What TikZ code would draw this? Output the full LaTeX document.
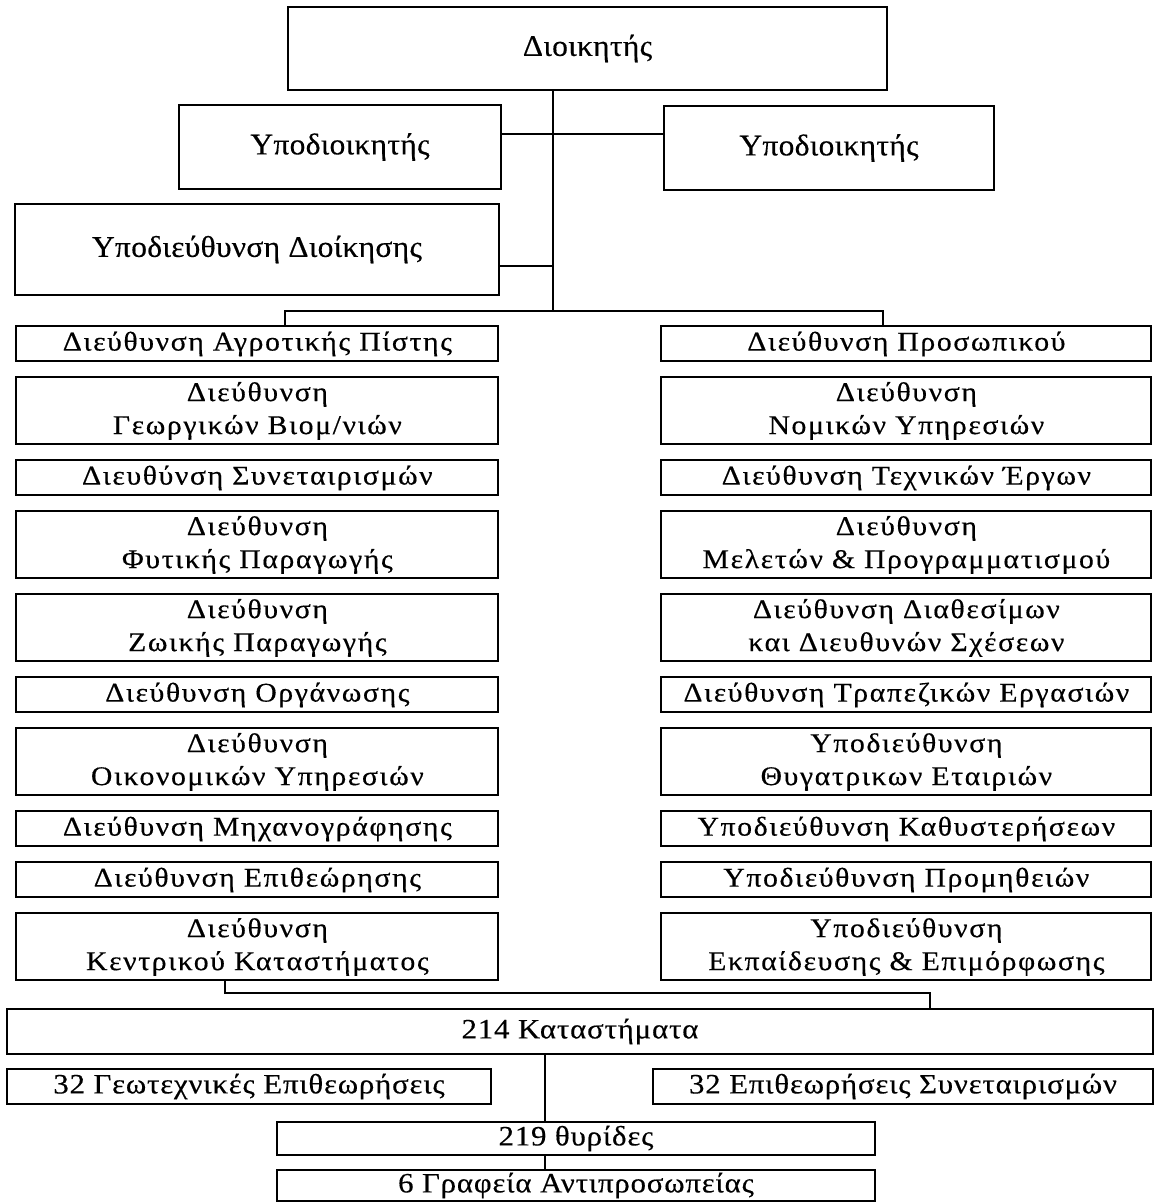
\documentclass[tikz,border=0pt]{standalone}
\usepackage{fontspec}
\setmainfont{Liberation Serif}
\newfontfamily\colfont[FakeStretch=1.1,LetterSpace=6,FakeBold=0.4]{Liberation Serif}
\newfontfamily\topfont[FakeStretch=1.05,LetterSpace=1,FakeBold=0.4]{Liberation Serif}
\newfontfamily\botfont[FakeStretch=1.1,LetterSpace=3,FakeBold=0.4]{Liberation Serif}
\usetikzlibrary{matrix}

\tikzset{
  unit/.style={draw,line width=1pt,inner sep=0pt,outer sep=0pt,align=center},
  topunit/.style={unit,font=\topfont\fontsize{15}{18}\selectfont},
  botunit/.style={unit,font=\botfont\fontsize{14}{17}\selectfont},
  conn/.style={line width=1pt},
}

\begin{document}
\begin{tikzpicture}[x=0.5pt,y=-0.5pt]
\useasboundingbox (0,0) rectangle (1157,1204);
% administration
\node[topunit,minimum width=299.5pt,minimum height=41.5pt] (dioik) at (587.5,48.5) {Διοικητής};
\node[topunit,minimum width=161pt,minimum height=42pt] (ypo1) at (340,147) {Υποδιοικητής};
\node[topunit,minimum width=165pt,minimum height=42pt] (ypo2) at (829,148) {Υποδιοικητής};
\node[topunit,minimum width=242pt,minimum height=45.5pt] (ypdioik) at (257,249.5) {Υποδιεύθυνση Διοίκησης};
% directorates
\matrix (m) [matrix of nodes,anchor=north west,inner sep=0pt,row sep=7pt,column sep=80.5pt,
nodes={unit,minimum height=17.5pt,font=\colfont\fontsize{13.5}{16.5}\selectfont},
column 1/.style={nodes={text width=241pt}},
column 2/.style={nodes={text width=245pt}},
row 2/.style={nodes={minimum height=33.5pt}},
row 4/.style={nodes={minimum height=33.5pt}},
row 5/.style={nodes={minimum height=33.5pt}},
row 7/.style={nodes={minimum height=33.5pt}},
row 10/.style={nodes={minimum height=33.5pt}}
] at (15,325) {
Διεύθυνση Αγροτικής Πίστης            & Διεύθυνση Προσωπικού                                 \\
{Διεύθυνση\\Γεωργικών Βιομ/νιών}      & {Διεύθυνση\\Νομικών Υπηρεσιών}                       \\
Διευθύνση Συνεταιρισμών               & Διεύθυνση Τεχνικών Έργων                             \\
{Διεύθυνση\\Φυτικής Παραγωγής}        & {Διεύθυνση\\Μελετών \& Προγραμματισμού}              \\
{Διεύθυνση\\Ζωικής Παραγωγής}         & {Διεύθυνση Διαθεσίμων\\και Διευθυνών Σχέσεων}        \\
Διεύθυνση Οργάνωσης                   & Διεύθυνση Τραπεζικών Εργασιών                        \\
{Διεύθυνση\\Οικονομικών Υπηρεσιών}    & {Υποδιεύθυνση\\Θυγατρικων Εταιριών}                  \\
Διεύθυνση Μηχανογράφησης              & Υποδιεύθυνση Καθυστερήσεων                           \\
Διεύθυνση Επιθεώρησης                 & Υποδιεύθυνση Προμηθειών                              \\
{Διεύθυνση\\Κεντρικού Καταστήματος}   & {Υποδιεύθυνση\\Εκπαίδευσης \& Επιμόρφωσης}           \\
};
% branches
\node[botunit,minimum width=573pt,minimum height=22.5pt] (kat) at (580,1031.5) {214 Καταστήματα};
\node[botunit,minimum width=242pt,minimum height=17.5pt] (geo) at (249,1086.5) {32 Γεωτεχνικές Επιθεωρήσεις};
\node[botunit,minimum width=250pt,minimum height=17.5pt] (epi) at (903,1086.5) {32 Επιθεωρήσεις Συνεταιρισμών};
\node[botunit,minimum width=299pt,minimum height=16.5pt] (thy) at (576,1138.5) {219 θυρίδες};
\node[botunit,minimum width=299pt,minimum height=15.5pt] (graf) at (576,1185.5) {6 Γραφεία Αντιπροσωπείας};
% connectors
\coordinate (trunk) at (553,311);
\coordinate (jl) at (285,311);
\coordinate (jr) at (883,311);
\coordinate (kl) at (225,993);
\coordinate (kr) at (930,993);
\coordinate (stem) at (545,1100);
\draw[conn] (dioik.south -| trunk) -- (trunk);
\draw[conn] ([yshift=6.5pt]ypo1.east) -- ([yshift=6.5pt]ypo1.east -| ypo2.west);
\draw[conn] ([yshift=-8.25pt]ypdioik.east) -- ([yshift=-8.25pt]ypdioik.east -| trunk);
\draw[conn] (m-1-1.north -| jl) -- (jl) -- (jr) -- (m-1-2.north -| jr);
\draw[conn] (m-10-1.south -| kl) -- (kl) -- (kr) -- (kat.north -| kr);
\draw[conn] (kat.south -| stem) -- (thy.north -| stem);
\draw[conn] (thy.south -| stem) -- (graf.north -| stem);
\end{tikzpicture}
\end{document}
